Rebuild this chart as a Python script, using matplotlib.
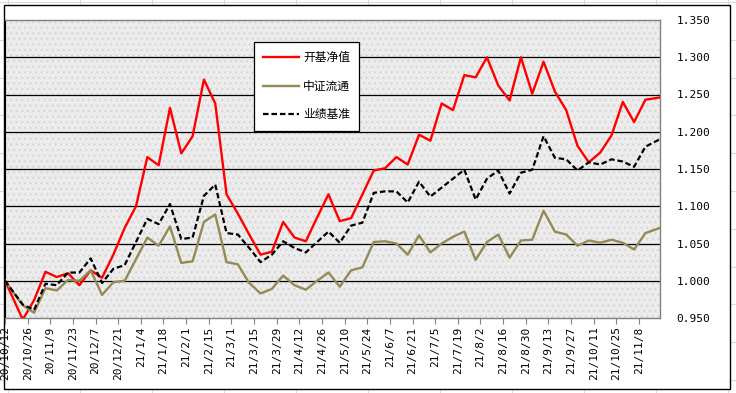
import numpy as np
import pandas as pd
import matplotlib
matplotlib.use('Agg')
import matplotlib.pyplot as plt
from matplotlib.patches import Rectangle
from matplotlib.lines import Line2D

# weekly data: start date, Fridays, last report date
dates = ([pd.Timestamp('2020-10-12')]
         + list(pd.date_range('2020-10-23', '2021-11-12', freq='7D'))
         + [pd.Timestamp('2021-11-21')])

fund_nav = [1.000, 0.948, 0.974, 1.012, 1.005, 1.010, 0.994, 1.014, 1.004, 1.035,
            1.071, 1.100, 1.166, 1.155, 1.232, 1.171, 1.194, 1.270, 1.238, 1.116,
            1.090, 1.062, 1.035, 1.039, 1.079, 1.058, 1.053, 1.085, 1.116, 1.080,
            1.084, 1.116, 1.148, 1.151, 1.166, 1.156, 1.196, 1.188, 1.238, 1.229,
            1.276, 1.273, 1.300, 1.262, 1.242, 1.300, 1.251, 1.294, 1.254, 1.229,
            1.181, 1.159, 1.172, 1.195, 1.240, 1.213, 1.243, 1.246]

csi_index = [1.000, 0.967, 0.957, 0.990, 0.987, 1.001, 1.000, 1.014, 0.981, 0.998,
             1.000, 1.029, 1.058, 1.047, 1.073, 1.024, 1.026, 1.079, 1.089, 1.025,
             1.022, 0.997, 0.983, 0.989, 1.007, 0.994, 0.988, 1.000, 1.011, 0.992,
             1.014, 1.018, 1.052, 1.053, 1.050, 1.035, 1.061, 1.038, 1.050, 1.059,
             1.066, 1.028, 1.052, 1.062, 1.031, 1.054, 1.055, 1.094, 1.066, 1.062,
             1.047, 1.054, 1.051, 1.055, 1.051, 1.042, 1.064, 1.071]

benchmark = [1.000, 0.968, 0.961, 0.996, 0.994, 1.011, 1.011, 1.030, 0.997, 1.016,
             1.021, 1.052, 1.083, 1.076, 1.103, 1.056, 1.058, 1.114, 1.129, 1.064,
             1.062, 1.044, 1.025, 1.035, 1.053, 1.044, 1.038, 1.052, 1.066, 1.051,
             1.074, 1.078, 1.118, 1.120, 1.120, 1.105, 1.133, 1.113, 1.125, 1.137,
             1.149, 1.109, 1.137, 1.148, 1.117, 1.145, 1.149, 1.194, 1.165, 1.163,
             1.148, 1.159, 1.156, 1.163, 1.160, 1.153, 1.180, 1.190]

series_names = ['开基净值', '中证流通', '业绩基准']

tick_labels = ['20/10/12', '20/10/26', '20/11/9', '20/11/23', '20/12/7', '20/12/21',
               '21/1/4', '21/1/18', '21/2/1', '21/2/15', '21/3/1', '21/3/15',
               '21/3/29', '21/4/12', '21/4/26', '21/5/10', '21/5/24', '21/6/7',
               '21/6/21', '21/7/5', '21/7/19', '21/8/2', '21/8/16', '21/8/30',
               '21/9/13', '21/9/27', '21/10/11', '21/10/25', '21/11/8']
tick_dates = [pd.to_datetime(s, format='%y/%m/%d') for s in tick_labels]

y_ticks = [0.95, 1.00, 1.05, 1.10, 1.15, 1.20, 1.25, 1.30, 1.35]

W, H = 736, 393
fig = plt.figure(figsize=(W / 100, H / 100), dpi=100)
fig.patch.set_facecolor('white')

# faint spreadsheet grid behind the chart
for xc in range(8, W, 72):
    fig.add_artist(Line2D([xc / W, xc / W], [0, 1], transform=fig.transFigure,
                          color='#d4dbe8', lw=0.8, zorder=-3))
for yr in np.arange(2, H, 37.8):
    fig.add_artist(Line2D([0, 1], [1 - yr / H, 1 - yr / H], transform=fig.transFigure,
                          color='#d4dbe8', lw=0.8, zorder=-3))

# chart area frame
fig.add_artist(Rectangle((4 / W, 1 - 389 / H), 726 / W, 384 / H, transform=fig.transFigure,
                         facecolor='white', edgecolor='black', lw=1.0, zorder=-2))

ax = fig.add_axes([5 / W, 1 - 318 / H, 655 / W, 298 / H])
ax.set_facecolor('#e9e9e9')
plt.rcParams['hatch.linewidth'] = 0.6
ax.add_patch(Rectangle((0, 0), 1, 1, transform=ax.transAxes, facecolor='none',
                       edgecolor='#f7f7f7', hatch='......', lw=0, zorder=0))
ax.add_patch(Rectangle((0, 0), 1, 1, transform=ax.transAxes, facecolor='none',
                       edgecolor='#d4d4d4', hatch='...', lw=0, zorder=0))

for v in y_ticks[1:-1]:
    ax.axhline(v, color='black', lw=0.9, zorder=1)

ax.plot(dates, fund_nav, color='#ff0000', lw=1.7, label=series_names[0], zorder=3)
ax.plot(dates, csi_index, color='#948a54', lw=1.7, label=series_names[1], zorder=3)
ax.plot(dates, benchmark, color='black', lw=1.6, linestyle=(0, (2.5, 1.3)),
        label=series_names[2], zorder=3)

ax.set_xlim(dates[0], dates[-1])
ax.set_ylim(0.95, 1.35)
ax.set_xticks(tick_dates)
ax.set_xticklabels(tick_labels, rotation=90, family='DejaVu Sans Mono', fontsize=8)
ax.set_yticks(y_ticks)
ax.set_yticklabels(['%.3f' % v for v in y_ticks], family='DejaVu Sans Mono', fontsize=8)
ax.yaxis.tick_right()
ax.tick_params(axis='y', length=0, pad=12)
ax.tick_params(axis='x', direction='out', length=4, color='#808080', pad=2)

for side in ['top', 'right', 'bottom']:
    ax.spines[side].set_color('#808080')
    ax.spines[side].set_linewidth(1.0)
ax.spines['left'].set_color('black')

leg = ax.legend(loc='upper left', bbox_to_anchor=(254 / W, 1 - 42 / H),
                bbox_transform=fig.transFigure, borderaxespad=0, frameon=True,
                fancybox=False, framealpha=1, edgecolor='black',
                prop={'family': ['Noto Sans CJK SC', 'DejaVu Sans'], 'size': 8.5},
                handlelength=3.0, handletextpad=0.35, labelspacing=1.3, borderpad=0.8)
leg.get_frame().set_linewidth(0.9)
leg.set_zorder(5)

fig.savefig('out.png', dpi=100)
